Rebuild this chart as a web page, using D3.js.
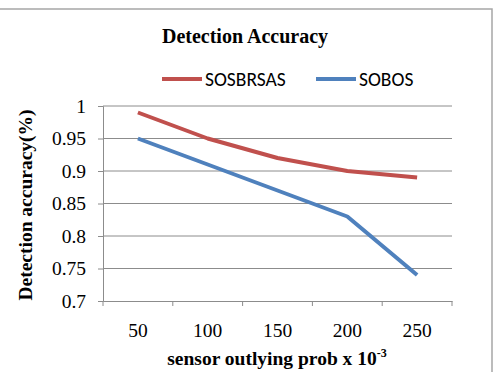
<!DOCTYPE html>
<html>
<head>
<meta charset="utf-8">
<script src="https://cdn.jsdelivr.net/npm/d3@7"></script>
<style>
  body { margin: 0; background: #fff; }
  svg { display: block; }
</style>
</head>
<body>
<div id="chart"></div>
<script>
// Chart data
const categories = ["50", "100", "150", "200", "250"];
const sosbrsas = [0.99, 0.95, 0.92, 0.90, 0.89];
const sobos = [0.95, 0.91, 0.87, 0.83, 0.74];
const yTicks = [0.7, 0.75, 0.8, 0.85, 0.9, 0.95, 1];
const seriesNames = ["SOSBRSAS", "SOBOS"];

const [w, h] = [495, 372];
const plotLeft = 103, plotRight = 452, plotTop = 106, plotBottom = 301;
const red = "#c0504d", blue = "#4f81bd";
const serif = "'Liberation Serif', 'Times New Roman', serif";
const sans = "Carlito, 'Liberation Sans', Arial, sans-serif";
const fs = 19.5;

const svg = d3.select("#chart").append("svg")
  .attr("width", w)
  .attr("height", h);

// Outer frame
svg.append("rect")
  .attr("x", -1).attr("y", 9)
  .attr("width", 493).attr("height", 370)
  .attr("fill", "none")
  .attr("stroke", "#a6a6a6")
  .attr("stroke-width", 1.5);

const x = d3.scaleBand().domain(categories).range([plotLeft, plotRight]);
const y = d3.scaleLinear().domain([0.7, 1]).range([plotBottom, plotTop]);

// Grid lines
svg.append("g")
  .selectAll("line")
  .data(yTicks.slice(1))
  .join("line")
  .attr("x1", plotLeft).attr("x2", plotRight)
  .attr("y1", d => y(d)).attr("y2", d => y(d))
  .attr("stroke", "#8c8c8c")
  .attr("stroke-width", 1);

// Y axis
const yAxis = svg.append("g")
  .attr("transform", `translate(${plotLeft},0)`)
  .call(d3.axisLeft(y).tickValues(yTicks).tickSize(5)
    .tickFormat(d => String(+d.toFixed(2))));
yAxis.select(".domain").attr("stroke", "#8c8c8c");
yAxis.selectAll(".tick line").attr("stroke", "#8c8c8c");
yAxis.selectAll("text")
  .attr("x", -17)
  .attr("dy", "0.33em")
  .attr("font-family", serif)
  .attr("font-size", fs)
  .attr("fill", "#000");

// X axis
const xAxis = svg.append("g")
  .attr("transform", `translate(0,${plotBottom})`)
  .call(d3.axisBottom(x).tickSize(0));
xAxis.select(".domain").attr("stroke", "#8c8c8c");
xAxis.selectAll("text")
  .attr("y", 36)
  .attr("dy", 0)
  .attr("font-family", serif)
  .attr("font-size", fs)
  .attr("fill", "#000");

// Category boundary ticks
svg.append("g")
  .selectAll("line")
  .data(categories.concat(["end"]))
  .join("line")
  .attr("x1", (d, i) => plotLeft + i * x.step())
  .attr("x2", (d, i) => plotLeft + i * x.step())
  .attr("y1", plotBottom).attr("y2", plotBottom + 5)
  .attr("stroke", "#8c8c8c");

// Lines
const line = d3.line()
  .x((d, i) => x(categories[i]) + x.bandwidth() / 2)
  .y(d => y(d));

[sosbrsas, sobos].forEach((s, i) => {
  svg.append("path")
    .datum(s)
    .attr("d", line)
    .attr("fill", "none")
    .attr("stroke", i ? blue : red)
    .attr("stroke-width", 4)
    .attr("stroke-linejoin", "round");
});

// Title
svg.append("text")
  .attr("x", 245).attr("y", 43)
  .attr("text-anchor", "middle")
  .attr("font-family", serif)
  .attr("font-weight", "bold")
  .attr("font-size", 20)
  .text("Detection Accuracy");

// Legend
const legendX = [162, 316];
seriesNames.forEach((name, i) => {
  svg.append("line")
    .attr("x1", legendX[i]).attr("x2", legendX[i] + 40)
    .attr("y1", 79).attr("y2", 79)
    .attr("stroke", i ? blue : red)
    .attr("stroke-width", 4);
  svg.append("text")
    .attr("x", legendX[i] + 43).attr("y", 86)
    .attr("font-family", sans)
    .attr("font-size", 19.5)
    .text(name);
});

// Axis titles
svg.append("text")
  .attr("transform", `translate(32,205) rotate(-90)`)
  .attr("text-anchor", "middle")
  .attr("font-family", serif)
  .attr("font-weight", "bold")
  .attr("font-size", fs)
  .text("Detection accuracy(%)");

const xt = svg.append("text")
  .attr("x", 277).attr("y", 365)
  .attr("text-anchor", "middle")
  .attr("font-family", serif)
  .attr("font-weight", "bold")
  .attr("font-size", fs);
xt.append("tspan").text("sensor outlying prob x 10");
xt.append("tspan").attr("dy", -8).attr("font-size", 12).text("-3");
</script>
</body>
</html>
